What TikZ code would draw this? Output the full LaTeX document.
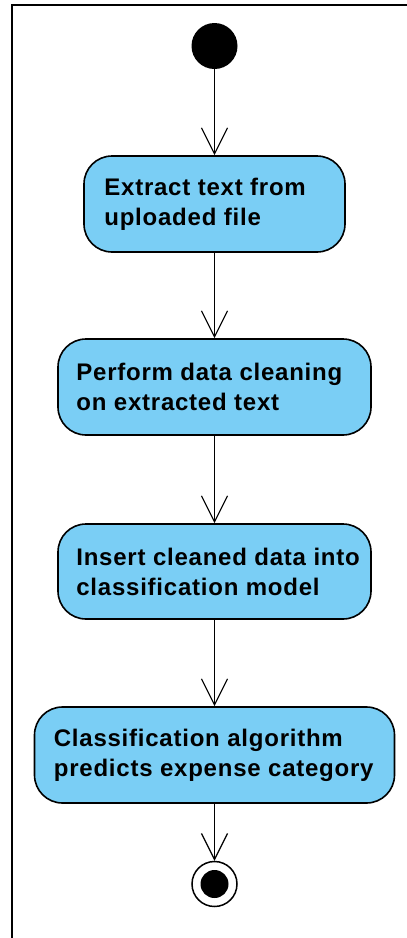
\documentclass[tikz,border=0pt]{standalone}
\usepackage{fontspec}
\setmainfont{Liberation Sans}
\newfontfamily\actfont[LetterSpace=3.2]{Liberation Sans}
\usetikzlibrary{arrows.meta}
\definecolor{actblue}{RGB}{122,206,245}
\tikzset{
  actbox/.style={draw=black, line width=1.6pt, fill=actblue, rounded corners=28pt, inner sep=0pt},
  acttext/.style={anchor=west, align=left, inner sep=0pt, font=\actfont\fontsize{24}{30}\selectfont\bfseries},
  flow/.style={draw=black, line width=1.2pt, -{Straight Barb[length=26pt,width=26pt,line width=1.2pt]}},
  startnode/.style={circle, fill=black, minimum size=46pt, inner sep=0pt},
  endouter/.style={circle, draw=black, line width=1.5pt, fill=white, minimum size=45pt, inner sep=0pt},
  endinner/.style={circle, fill=black, minimum size=28pt, inner sep=0pt},
  frameline/.style={line width=2.5pt, line cap=rect}
}
\begin{document}
\begin{tikzpicture}[x=1pt,y=1pt]
\useasboundingbox (0,0) rectangle (407,-938);
\draw[frameline] (12,-938) -- (12,-5) -- (407,-5);

\node[startnode] (start) at (214.5,-46) {};

\node[actbox, minimum width=261pt, minimum height=96pt] (b1) at (214.5,-204) {};
\node[acttext] (t1) at ([xshift=21pt]b1.west) {Extract text from\\uploaded file};

\node[actbox, minimum width=313pt, minimum height=96pt] (b2) at (214.5,-387) {};
\node[acttext] (t2) at ([xshift=19pt]b2.west) {Perform data cleaning\\on extracted text};

\node[actbox, minimum width=313pt, minimum height=95pt] (b3) at (214.5,-571.5) {};
\node[acttext] (t3) at ([xshift=19pt]b3.west) {Insert cleaned data into\\classification model};

\node[actbox, minimum width=360pt, minimum height=96pt] (b4) at (214.5,-755) {};
\node[acttext] (t4) at ([xshift=20pt]b4.west) {Classification algorithm\\predicts expense category};

\node[endouter] (endo) at (214.5,-884) {};
\node[endinner] (endi) at (endo.center) {};

\draw[flow] (start) -- (b1.north);
\draw[flow] (b1.south) -- (b2.north);
\draw[flow] (b2.south) -- (b3.north);
\draw[flow] (b3.south) -- (b4.north);
\draw[flow] (b4.south) -- (endo.north);
\end{tikzpicture}
\end{document}
